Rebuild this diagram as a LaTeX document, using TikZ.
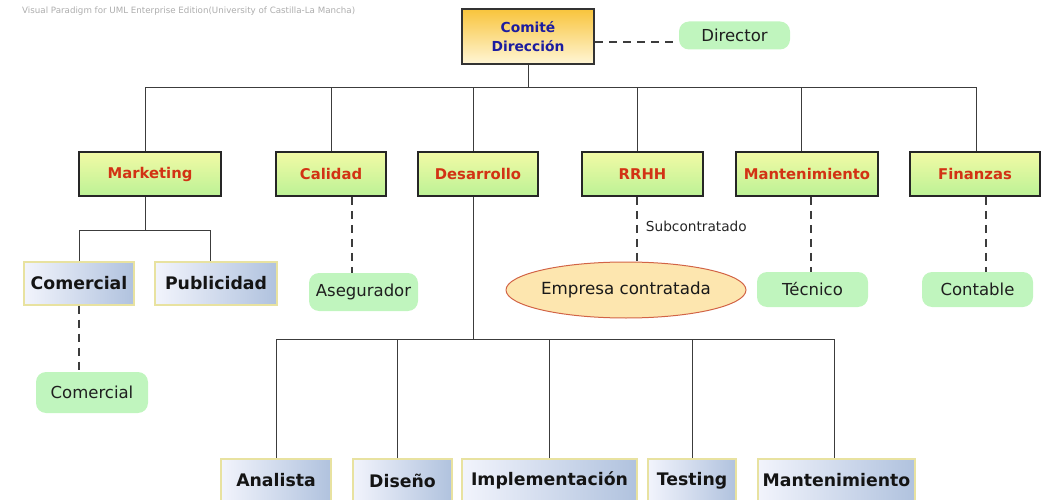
\documentclass[tikz,border=0pt]{standalone}
\usepackage{fontspec}
\setmainfont{DejaVu Sans}
\usetikzlibrary{shapes.geometric}
\definecolor{lineC}{RGB}{60,60,60}
\definecolor{lvYel}{RGB}{242,250,165}
\definecolor{lvGrn}{RGB}{188,242,150}
\definecolor{lvRed}{RGB}{210,50,20}
\definecolor{cmTop}{RGB}{248,196,60}
\definecolor{cmBot}{RGB}{255,246,214}
\definecolor{cmTxt}{RGB}{28,28,160}
\definecolor{mint}{RGB}{192,245,190}
\definecolor{blL}{RGB}{242,244,252}
\definecolor{blR}{RGB}{176,194,222}
\definecolor{blBorder}{RGB}{232,226,160}
\definecolor{elFill}{RGB}{253,230,175}
\definecolor{elBorder}{RGB}{210,100,70}
\tikzset{
  conn/.style={draw=lineC, line width=0.9pt},
  dconn/.style={draw=lineC, line width=1.1pt, dash pattern=on 8pt off 6pt},
  lvtwo/.style={rectangle, draw=black!85, line width=1.6pt, top color=lvYel, bottom color=lvGrn,
    text=lvRed, font=\fontsize{14.8}{17}\selectfont\bfseries, minimum height=44pt, inner sep=0pt},
  comitebox/.style={rectangle, draw=black!80, line width=2.4pt, top color=cmTop, bottom color=cmBot,
    text=cmTxt, font=\fontsize{13.8}{19}\selectfont\bfseries, align=center, inner sep=0pt},
  rolebox/.style={rectangle, rounded corners=10pt, fill=mint, draw=none, text=black!88,
    font=\fontsize{16.5}{19}\selectfont, inner sep=0pt},
  unitbox/.style={rectangle, draw=blBorder, line width=1.4pt, left color=blL, right color=blR,
    text=black!92, font=\fontsize{17.3}{20}\selectfont\bfseries, minimum height=43pt, inner sep=0pt},
  extbox/.style={ellipse, draw=elBorder, line width=1pt, fill=elFill, text=black!90,
    font=\fontsize{16.7}{19}\selectfont, inner sep=0pt},
  sublabel/.style={font=\fontsize{13.7}{16}\selectfont, text=black!85},
  watermark/.style={font=\fontsize{8.7}{10}\selectfont, text=black!32}
}
\begin{document}
\begin{tikzpicture}[x=1pt, y=-1pt]
\useasboundingbox (0,0) rectangle (1045,500);
\clip (0,0) rectangle (1045,500);

\node[watermark, anchor=west, inner sep=0pt] (wm) at (22,11) {Visual Paradigm for UML Enterprise Edition(University of Castilla-La Mancha)};

% top
\node[comitebox, minimum width=132pt, minimum height=55pt] (comite) at (528,36.5) {Comité\\Dirección};
\node[rolebox, minimum width=111pt, minimum height=28pt] (director) at (734.5,35.5) {Director};

% level 2
\node[lvtwo, minimum width=142pt] (marketing) at (150,174) {Marketing};
\node[lvtwo, minimum width=110pt] (calidad) at (331,174) {Calidad};
\node[lvtwo, minimum width=120pt] (desarrollo) at (478,174) {Desarrollo};
\node[lvtwo, minimum width=121pt] (rrhh) at (642.5,174) {RRHH};
\node[lvtwo, minimum width=142pt] (mant) at (807,174) {Mantenimiento};
\node[lvtwo, minimum width=130pt] (finanzas) at (975,174) {Finanzas};

% level 3
\node[unitbox, minimum width=110pt] (comercial) at (79,283.5) {Comercial};
\node[unitbox, minimum width=122pt] (publicidad) at (216,283.5) {Publicidad};
\node[rolebox, minimum width=112pt, minimum height=41pt] (comercialr) at (92,392.5) {Comercial};
\node[rolebox, minimum width=109pt, minimum height=38pt] (asegurador) at (363.5,292) {Asegurador};
\node[extbox, minimum width=198pt, minimum height=56pt] (empresa) at (626,290) {Empresa contratada};
\node[rolebox, minimum width=111pt, minimum height=35pt] (tecnico) at (812.5,289.5) {Técnico};
\node[rolebox, minimum width=111pt, minimum height=35pt] (contable) at (977.5,289.5) {Contable};

% bottom row
\node[unitbox, minimum width=110pt] (analista) at (276,480.5) {Analista};
\node[unitbox, minimum width=99pt] (diseno) at (402.5,480.5) {Diseño};
\node[unitbox, minimum width=175pt] (implementacion) at (549.5,480.5) {Implementación};
\node[unitbox, minimum width=88pt] (testing) at (692,480.5) {Testing};
\node[unitbox, minimum width=157pt] (mantdos) at (836.5,480.5) {Mantenimiento};

% bus coordinates
\coordinate (bus) at (528,87);
\coordinate (mbus) at (145,230);
\coordinate (dbus) at (473,339);

% top tree
\draw[conn] (comite.south) -- (bus);
\draw[conn] (bus) -| ([xshift=-5pt]marketing.north);
\draw[conn] (bus) -| (calidad.north);
\draw[conn] (bus) -| ([xshift=-5pt]desarrollo.north);
\draw[conn] (bus) -| ([xshift=-5.5pt]rrhh.north);
\draw[conn] (bus) -| ([xshift=-6pt]mant.north);
\draw[conn] (bus) -| ([xshift=1pt]finanzas.north);

% marketing subtree
\draw[conn] ([xshift=-5pt]marketing.south) -- (mbus);
\draw[conn] (mbus) -| (comercial.north);
\draw[conn] (mbus) -| ([xshift=-6pt]publicidad.north);

% desarrollo subtree
\draw[conn] ([xshift=-5pt]desarrollo.south) -- (dbus);
\draw[conn] (dbus) -| (analista.north);
\draw[conn] (dbus) -| ([xshift=-5.5pt]diseno.north);
\draw[conn] (dbus) -| (implementacion.north);
\draw[conn] (dbus) -| (testing.north);
\draw[conn] (dbus) -| ([xshift=-2.5pt]mantdos.north);

% dashed associations
\draw[dconn] ([yshift=-5.5pt]comite.east) -- ([yshift=-5.5pt]comite.east -| director.west);
\draw[dconn] (comercial.south) -- (comercial.south |- comercialr.north);
\draw[dconn] ([xshift=21pt]calidad.south) -- ([xshift=21pt]calidad.south |- asegurador.north);
\draw[dconn] ([xshift=-5.5pt]rrhh.south) -- node[pos=0.46, right=5pt, sublabel] {Subcontratado} ([xshift=-5.5pt]rrhh.south |- empresa.north);
\draw[dconn] ([xshift=4pt]mant.south) -- ([xshift=4pt]mant.south |- tecnico.north);
\draw[dconn] ([xshift=11pt]finanzas.south) -- ([xshift=11pt]finanzas.south |- contable.north);
\end{tikzpicture}
\end{document}
